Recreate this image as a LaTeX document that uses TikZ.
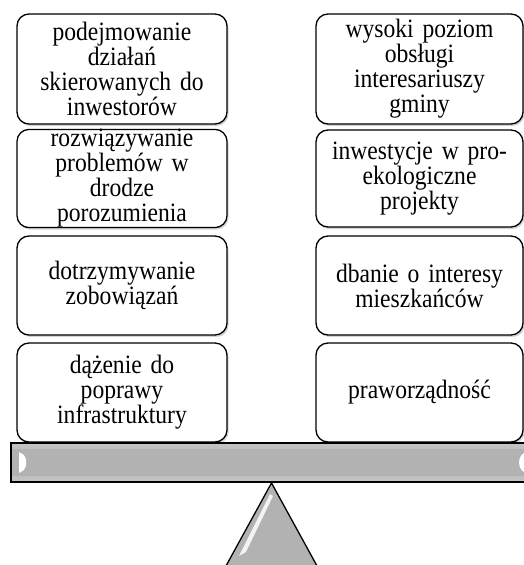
\documentclass[tikz,border=0pt]{standalone}
\usepackage{fontspec}
\setmainfont[FakeStretch=0.89, WordSpace=0.75]{Liberation Serif}
\usetikzlibrary{shadows}
\begin{document}
\begin{tikzpicture}[x=1pt,y=-1pt,
  boxstyle/.style={draw=black, line width=1.3pt, rounded corners=12pt, fill=white,
    drop shadow={shadow xshift=1.5pt, shadow yshift=-2pt, opacity=0.35, fill=gray},
    align=center, inner sep=0pt, font=\fontsize{26.5}{25}\selectfont},
  leftbox/.style={boxstyle, minimum width=210pt, text width=200pt},
  rightbox/.style={boxstyle, minimum width=207pt, text width=197pt}]
\useasboundingbox (0,0) rectangle (524,565);
\begin{scope}
\clip (0,0) rectangle (524,565);
% boxes
\node[leftbox, minimum height=110pt] (l1) at (122,69) {podejmowanie\\działań\\skierowanych do\\inwestorów};
\node[leftbox, minimum height=97pt] (l2) at (122,178.5) {rozwiązywanie\\problemów w\\drodze\\porozumienia};
\node[leftbox, minimum height=99pt] (l3) at (122,285.5) {dotrzymywanie\\zobowiązań};
\node[leftbox, minimum height=99pt] (l4) at (122,392.5) {dążenie do\\poprawy\\infrastruktury};
\node[rightbox, minimum height=110pt] (r1) at (419.5,69) {wysoki poziom\\obsługi\\interesariuszy\\gminy};
\node[rightbox, minimum height=97pt] (r2) at (419.5,178.5) {inwestycje w pro-\\ekologiczne\\projekty};
\node[rightbox, minimum height=99pt] (r3) at (419.5,285.5) {dbanie o interesy\\mieszkańców};
\node[rightbox, minimum height=99pt] (r4) at (419.5,392.5) {praworządność};
% beam
\path[top color=gray!45, bottom color=gray!45, middle color=gray!62] (11,443) rectangle (534,482);
\fill[gray!60] (11,449) rectangle (534,476);
\fill[white] (19,452) -- (24,455) .. controls (27,459) and (27,466) .. (24,470) -- (19,473) -- cycle;
\fill[white] (524,453) .. controls (518,456) and (517,468) .. (524,472) -- cycle;
\draw[line width=1.3pt] (11,443) rectangle (534,482);
% fulcrum
\fill[gray!60] (271.5,483) -- (221,575) -- (322,575) -- cycle;
\fill[white, opacity=0.85] (270,494) -- (273,496) -- (246,552) -- (239,556) -- cycle;
\draw[line width=1.3pt, line join=round] (221,575) -- (271.5,483) -- (322,575);
\end{scope}
\end{tikzpicture}
\end{document}
